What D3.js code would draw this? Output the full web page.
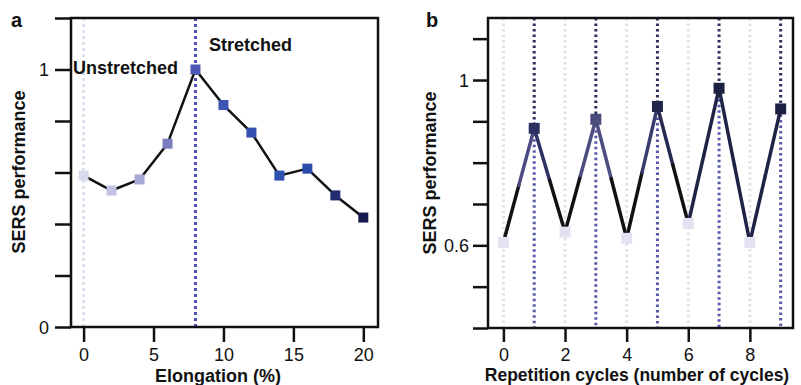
<!DOCTYPE html>
<html>
<head>
<meta charset="UTF-8">
<style>
  body { margin: 0; background: #fff; }
  svg { display: block; font-family: "Liberation Sans", Arial, sans-serif; }
  .tick-lbl { font-size: 18px; fill: #111; }
  .ax-title { font-size: 18px; font-weight: bold; fill: #111; }
  .panel-lbl { font-size: 20px; font-weight: bold; fill: #111; }
  .note { font-size: 18px; font-weight: bold; fill: #111; }
</style>
</head>
<body>
<script src="https://cdn.jsdelivr.net/npm/d3@7/dist/d3.min.js"></script>
<script>
// panel a : SERS vs elongation
var elongation = [0, 2, 4, 6, 8, 10, 12, 14, 16, 18, 20];
var sersA = [0.588, 0.530, 0.573, 0.712, 1.0, 0.862, 0.755, 0.588, 0.615, 0.511, 0.425];
var colorsA = ["#d9d9ee", "#c3c3e3", "#a9a9d8", "#7b7bc0", "#4b58b5", "#3d55b5",
               "#3452b2", "#2f52b0", "#2b4ca8", "#222c6e", "#161a4e"];
var xTicksA = [0, 5, 10, 15, 20];
var yTicksA = [0, 0.2, 0.4, 0.6, 0.8, 1, 1.2];
var yLabelsA = [0, 1];

// panel b : SERS vs repetition cycles
var cycles = [0, 1, 2, 3, 4, 5, 6, 7, 8, 9];
var sersB = [0.607, 0.883, 0.632, 0.905, 0.617, 0.936, 0.653, 0.98, 0.607, 0.93];
var colorsB = ["#e2e2f2", "#2b3060", "#e2e2f2", "#4a4c7c", "#e2e2f2", "#1f2549",
               "#e2e2f2", "#1c2142", "#e2e2f2", "#1c2142"];
// colour of each segment: [lower half, upper half]
var segColorsB = [["#111", "#4b4b82"], ["#111", "#2e3262"], ["#111", "#4d4d80"], ["#111", "#4d4d80"],
                  ["#111", "#3a3c6e"], ["#111", "#262a50"], ["#1f2346", "#1f2346"], ["#1f2346", "#1f2346"],
                  ["#1f2346", "#1f2346"]];
var xTicksB = [0, 2, 4, 6, 8];
var yTicksB = [0.4, 0.5, 0.6, 0.7, 0.8, 0.9, 1.0, 1.1];
var yLabelsB = [0.6, 1];

var svg = d3.select("body").append("svg")
    .attr("width", 801)
    .attr("height", 385);

// ---------- panel a ----------
var xA = d3.scaleLinear().domain([-0.9, 21.05]).range([71, 378]);
var yA = d3.scaleLinear().domain([0, 1.2]).range([327, 18]);

var ga = svg.append("g");

// guide lines
ga.append("line")
    .attr("x1", xA(0)).attr("x2", xA(0))
    .attr("y1", yA(1.2)).attr("y2", yA(0))
    .attr("stroke", "#e0e0f0").attr("stroke-width", 3).attr("stroke-dasharray", "3,3");
ga.append("line")
    .attr("x1", xA(8)).attr("x2", xA(8))
    .attr("y1", yA(1.2)).attr("y2", yA(0))
    .attr("stroke", "#5050b2").attr("stroke-width", 3).attr("stroke-dasharray", "3,3");

// frame
ga.append("rect")
    .attr("x", xA.range()[0]).attr("y", yA.range()[1])
    .attr("width", xA.range()[1] - xA.range()[0])
    .attr("height", yA.range()[0] - yA.range()[1])
    .attr("fill", "none").attr("stroke", "#111").attr("stroke-width", 2.5);

// y axis
var yAxisA = d3.axisLeft(yA).tickValues(yTicksA).tickSize(16)
    .tickFormat(function(d) { return yLabelsA.indexOf(d) >= 0 ? d3.format("d")(d) : ""; });
ga.append("g").attr("transform", "translate(" + xA.range()[0] + ",0)").call(yAxisA)
    .call(function(g) {
        g.select(".domain").remove();
        g.selectAll(".tick line").attr("stroke", "#111").attr("stroke-width", 2.5);
        g.selectAll(".tick text").attr("class", "tick-lbl").attr("x", -22).attr("dy", "0.36em");
        g.attr("font-size", null).attr("font-family", null);
    });

// x axis
var xAxisA = d3.axisBottom(xA).tickValues(xTicksA).tickSize(15);
ga.append("g").attr("transform", "translate(0," + yA.range()[0] + ")").call(xAxisA)
    .call(function(g) {
        g.select(".domain").remove();
        g.selectAll(".tick line").attr("stroke", "#111").attr("stroke-width", 2.5);
        g.selectAll(".tick text").attr("class", "tick-lbl").attr("y", 34).attr("dy", 0);
        g.attr("font-size", null).attr("font-family", null);
    });

var lineA = d3.line()
    .x(function(d, i) { return xA(elongation[i]); })
    .y(function(d) { return yA(d); });
ga.append("path").datum(sersA)
    .attr("d", lineA)
    .attr("fill", "none").attr("stroke", "#111").attr("stroke-width", 2.5)
    .attr("stroke-linejoin", "round");

ga.selectAll(".mk").data(sersA).enter().append("rect")
    .attr("class", "mk")
    .attr("x", function(d, i) { return xA(elongation[i]) - 5; })
    .attr("y", function(d) { return yA(d) - 5; })
    .attr("width", 10).attr("height", 10)
    .attr("fill", function(d, i) { return colorsA[i]; });

ga.append("text").attr("class", "note").attr("x", 73).attr("y", 74).text("Unstretched");
ga.append("text").attr("class", "note").attr("x", 209).attr("y", 51).text("Stretched");
ga.append("text").attr("class", "panel-lbl").attr("x", 11).attr("y", 27).text("a");
ga.append("text").attr("class", "ax-title")
    .attr("text-anchor", "middle")
    .attr("x", 218).attr("y", 382)
    .text("Elongation (%)");
ga.append("text").attr("class", "ax-title")
    .attr("text-anchor", "middle")
    .attr("transform", "translate(25,172) rotate(-90)")
    .text("SERS performance");

// ---------- panel b ----------
var xB = d3.scaleLinear().domain([-0.5, 9.4]).range([488, 793]);
var yB = d3.scaleLinear().domain([0.4, 1.15]).range([328, 18]);

var gb = svg.append("g");

cycles.forEach(function(c, i) {
    if (c % 2 === 0) {
        gb.append("line")
            .attr("x1", xB(c)).attr("x2", xB(c))
            .attr("y1", yB.range()[1]).attr("y2", yB.range()[0])
            .attr("stroke", "#e2e2ea").attr("stroke-width", 3).attr("stroke-dasharray", "2.5,3");
    } else {
        gb.append("line")
            .attr("x1", xB(c)).attr("x2", xB(c))
            .attr("y1", yB.range()[1]).attr("y2", yB(sersB[i]))
            .attr("stroke", "#2d2f5c").attr("stroke-width", 3).attr("stroke-dasharray", "2.5,3");
        gb.append("line")
            .attr("x1", xB(c)).attr("x2", xB(c))
            .attr("y1", yB(sersB[i])).attr("y2", yB.range()[0])
            .attr("stroke", "#5858a8").attr("stroke-width", 3).attr("stroke-dasharray", "2.5,3");
    }
});

gb.append("rect")
    .attr("x", xB.range()[0]).attr("y", yB.range()[1])
    .attr("width", xB.range()[1] - xB.range()[0])
    .attr("height", yB.range()[0] - yB.range()[1])
    .attr("fill", "none").attr("stroke", "#111").attr("stroke-width", 2.5);

var yAxisB = d3.axisLeft(yB).tickValues(yTicksB).tickSize(15)
    .tickFormat(function(d) {
        var hit = yLabelsB.some(function(v) { return Math.abs(v - d) < 1e-6; });
        return hit ? d3.format("~g")(d) : "";
    });
gb.append("g").attr("transform", "translate(" + xB.range()[0] + ",0)").call(yAxisB)
    .call(function(g) {
        g.select(".domain").remove();
        g.selectAll(".tick line").attr("stroke", "#111").attr("stroke-width", 2.5);
        g.selectAll(".tick text").attr("class", "tick-lbl").attr("x", -19).attr("dy", "0.36em");
        g.attr("font-size", null).attr("font-family", null);
    });

var xAxisB = d3.axisBottom(xB).tickValues(xTicksB).tickSize(14);
gb.append("g").attr("transform", "translate(0," + yB.range()[0] + ")").call(xAxisB)
    .call(function(g) {
        g.select(".domain").remove();
        g.selectAll(".tick line").attr("stroke", "#111").attr("stroke-width", 2.5);
        g.selectAll(".tick text").attr("class", "tick-lbl").attr("y", 33).attr("dy", 0);
        g.attr("font-size", null).attr("font-family", null);
    });

// zig-zag line, each segment drawn in two halves
for (var i = 0; i < sersB.length - 1; i++) {
    var x0 = xB(cycles[i]), y0 = yB(sersB[i]);
    var x1 = xB(cycles[i + 1]), y1 = yB(sersB[i + 1]);
    var xm = (x0 + x1) / 2, ym = (y0 + y1) / 2;
    var lowFirst = sersB[i] < sersB[i + 1];
    var c = segColorsB[i];
    gb.append("line").attr("x1", x0).attr("y1", y0).attr("x2", xm).attr("y2", ym)
        .attr("stroke", lowFirst ? c[0] : c[1]).attr("stroke-width", 3.5).attr("stroke-linecap", "round");
    gb.append("line").attr("x1", xm).attr("y1", ym).attr("x2", x1).attr("y2", y1)
        .attr("stroke", lowFirst ? c[1] : c[0]).attr("stroke-width", 3.5).attr("stroke-linecap", "round");
}

gb.selectAll(".mk").data(sersB).enter().append("rect")
    .attr("class", "mk")
    .attr("x", function(d, i) { return xB(cycles[i]) - 5.5; })
    .attr("y", function(d) { return yB(d) - 5.5; })
    .attr("width", 11).attr("height", 11)
    .attr("fill", function(d, i) { return colorsB[i]; });

gb.append("text").attr("class", "panel-lbl").attr("x", 426).attr("y", 27).text("b");
gb.append("text").attr("class", "ax-title")
    .attr("text-anchor", "middle")
    .attr("x", 637).attr("y", 381)
    .style("font-size", "17.5px")
    .text("Repetition cycles (number of cycles)");
gb.append("text").attr("class", "ax-title")
    .attr("text-anchor", "middle")
    .attr("transform", "translate(436,173) rotate(-90)")
    .text("SERS performance");
</script>
</body>
</html>
